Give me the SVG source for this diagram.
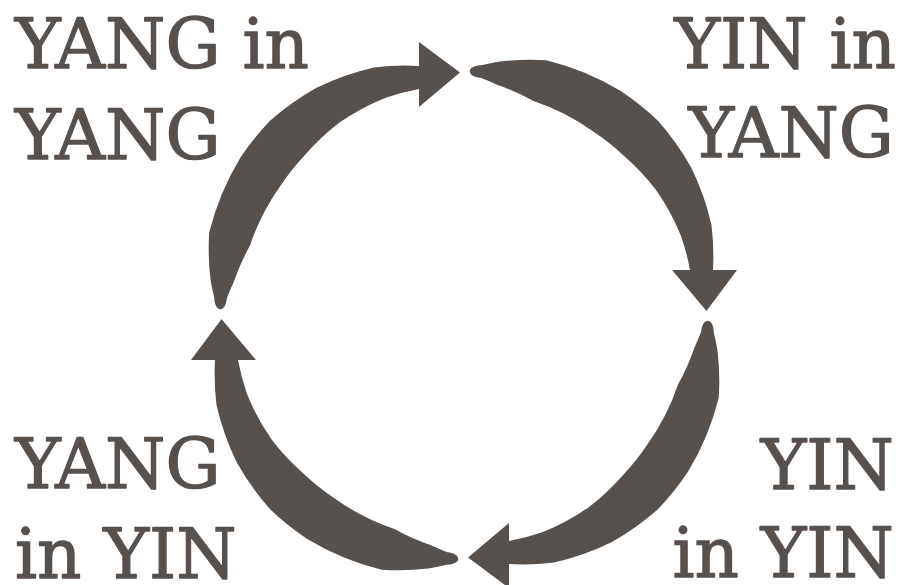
<svg xmlns="http://www.w3.org/2000/svg" xmlns:xlink="http://www.w3.org/1999/xlink" width="901" height="585" viewBox="0 0 901 585">
  <style>
    .lbl { font-family: "DejaVu Serif", "Liberation Serif", serif; font-size: 69px; fill: #57514e; stroke: #57514e; stroke-width: 1.3px; stroke-linejoin: round; }
    .end { text-anchor: end; }
    .arrow { fill: #57514e; }
  </style>
  <defs>
    <path id="arc-arrow" class="arrow" d="M 226.8 298.4 C 225.5 313 214.5 313 214.2 297.6 A 250 250 0 0 1 210.5 279.5 A 260 260 0 0 1 209.2 232.6 A 268 268 0 0 1 240.0 158.2 A 272 272 0 0 1 270.0 120.8 A 271 271 0 0 1 316.5 87.8 A 265 265 0 0 1 374.0 67.5 A 257 257 0 0 1 419 66 L 419 42 L 460 72.5 L 419 107 L 419 89 A 231 231 0 0 0 385.0 98.0 A 231 231 0 0 0 339.2 122.8 A 229 229 0 0 0 304.5 155.5 A 227 227 0 0 0 280.0 186.5 A 226 226 0 0 0 250.0 245.5 A 230 230 0 0 0 233.5 282.6 A 236 236 0 0 0 226.8 298.4 Z"/>
  </defs>
  <rect width="901" height="585" fill="#ffffff"/>
  <g id="connectors">
    <use id="arrow-yangyang-to-yinyang" xlink:href="#arc-arrow" href="#arc-arrow"/>
    <use id="arrow-yinyang-to-yinyin" xlink:href="#arc-arrow" href="#arc-arrow" transform="rotate(90 464 315)"/>
    <use id="arrow-yinyin-to-yangyin" xlink:href="#arc-arrow" href="#arc-arrow" transform="rotate(180 464 315)"/>
    <use id="arrow-yangyin-to-yangyang" xlink:href="#arc-arrow" href="#arc-arrow" transform="rotate(270 464 315)"/>
  </g>
  <g id="yang-in-yang">
    <text class="lbl" x="15" y="68">YANG in</text>
    <text class="lbl" x="15" y="159">YANG</text>
  </g>
  <g id="yin-in-yang">
    <text class="lbl end" x="896" y="68">YIN in</text>
    <text class="lbl end" x="894" y="157">YANG</text>
  </g>
  <g id="yang-in-yin">
    <text class="lbl" x="15" y="488">YANG</text>
    <text class="lbl" x="15" y="578">in YIN</text>
  </g>
  <g id="yin-in-yin">
    <text class="lbl end" x="894" y="489">YIN</text>
    <text class="lbl end" x="894" y="577">in YIN</text>
  </g>
</svg>
